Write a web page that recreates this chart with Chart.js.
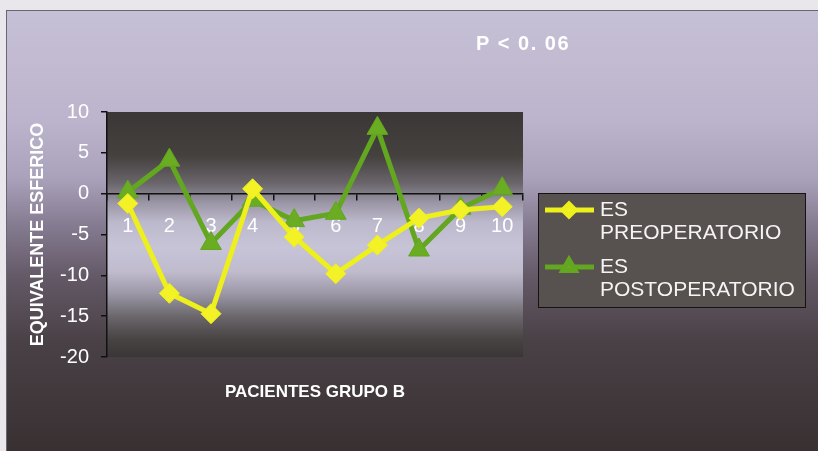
<!DOCTYPE html>
<html>
<head>
<meta charset="utf-8">
<style>
  html, body { margin: 0; padding: 0; background: #e9e7ec; }
  canvas { display: block; }
</style>
<script src="https://cdn.jsdelivr.net/npm/chart.js@4/dist/chart.umd.min.js"></script>
</head>
<body>
<canvas id="chart" width="818" height="451"></canvas>
<script>
// Patients of group B
const pacientes = ['1', '2', '3', '4', '5', '6', '7', '8', '9', '10'];
// Spherical equivalent before surgery (dioptres)
const esPreoperatorio = [-1.2, -12.2, -14.7, 0.6, -5.3, -9.8, -6.3, -3.0, -2.0, -1.6];
// Spherical equivalent after surgery (dioptres)
const esPostoperatorio = [0.2, 4.1, -6.1, -0.8, -3.3, -2.4, 8.0, -6.9, -1.8, 0.6];
// Value axis ticks
const yMin = -20, yMax = 10, yStep = 5;

const titulo = 'P < 0. 06';
const tituloX = 'PACIENTES GRUPO B';
const tituloY = 'EQUIVALENTE ESFERICO';
const leyenda = [['ES', 'PREOPERATORIO'], ['ES', 'POSTOPERATORIO']];

const FONT = '"Liberation Sans", Arial, sans-serif';

// Background panels, titles and the two-line legend
const decor = {
  id: 'decor',
  beforeDraw(chart) {
    const { ctx, width, height, chartArea: a } = chart;
    ctx.save();
    ctx.fillStyle = '#e9e7ec';
    ctx.fillRect(0, 0, width, height);

    const g = ctx.createLinearGradient(0, 10, 0, height);
    g.addColorStop(0.00, '#c6c0d6');
    g.addColorStop(0.25, '#bcb4cc');
    g.addColorStop(0.38, '#aaa2bb');
    g.addColorStop(0.48, '#887e94');
    g.addColorStop(0.60, '#645a68');
    g.addColorStop(0.75, '#4a4147');
    g.addColorStop(1.00, '#393032');
    ctx.fillStyle = g;
    ctx.fillRect(6, 10, width - 6, height - 10);
    ctx.strokeStyle = '#6a6670';
    ctx.lineWidth = 1;
    ctx.strokeRect(6.5, 10.5, width, height);

    const p = ctx.createLinearGradient(0, a.top, 0, a.bottom);
    p.addColorStop(0.00, '#3b3736');
    p.addColorStop(0.18, '#45413f');
    p.addColorStop(0.29, '#69656a');
    p.addColorStop(0.37, '#9a96a6');
    p.addColorStop(0.45, '#bdb9cc');
    p.addColorStop(0.55, '#c8c4d8');
    p.addColorStop(0.65, '#c0bcce');
    p.addColorStop(0.74, '#9c98a8');
    p.addColorStop(0.84, '#686468');
    p.addColorStop(0.93, '#474343');
    p.addColorStop(1.00, '#3a3636');
    ctx.fillStyle = p;
    ctx.fillRect(a.left, a.top, a.width, a.height);
    ctx.restore();
  },
  afterDraw(chart) {
    const { ctx, chartArea: a } = chart;
    ctx.save();
    ctx.fillStyle = '#ffffff';
    ctx.textAlign = 'center';
    ctx.textBaseline = 'middle';
    ctx.font = 'bold 20px ' + FONT;
    if ('letterSpacing' in ctx) ctx.letterSpacing = '1.5px';
    ctx.fillText(titulo, 523, 44);
    if ('letterSpacing' in ctx) ctx.letterSpacing = '0px';
    ctx.font = 'bold 17px ' + FONT;
    ctx.fillText(tituloX, (a.left + a.right) / 2, 392);

    // legend box
    const bx = 538, by = 193, bw = 267, bh = 114;
    ctx.fillStyle = '#57514f';
    ctx.fillRect(bx, by, bw, bh);
    ctx.strokeStyle = '#141212';
    ctx.lineWidth = 1;
    ctx.strokeRect(bx + 0.5, by + 0.5, bw, bh);

    const rows = [210, 267];
    chart.data.datasets.forEach((ds, i) => {
      const y = rows[i];
      ctx.strokeStyle = ds.borderColor;
      ctx.lineWidth = ds.borderWidth;
      ctx.beginPath();
      ctx.moveTo(545, y);
      ctx.lineTo(594, y);
      ctx.stroke();
      ctx.fillStyle = ds.pointBackgroundColor;
      ctx.strokeStyle = ds.pointBorderColor;
      Chart.helpers.drawPoint(ctx, {
        pointStyle: ds.pointStyle,
        radius: ds.pointRadius * 0.6,
        borderWidth: 1,
        rotation: 0
      }, 569, y);
      ctx.fillStyle = '#f4f4f4';
      ctx.font = '21px ' + FONT;
      ctx.textAlign = 'left';
      ctx.textBaseline = 'middle';
      ctx.fillText(leyenda[i][0], 600, y);
      ctx.fillText(leyenda[i][1], 600, y + 23);
    });
    ctx.restore();
  }
};

new Chart(document.getElementById('chart'), {
  type: 'line',
  data: {
    labels: pacientes,
    datasets: [
      {
        label: leyenda[0].join(' '),
        data: esPreoperatorio,
        borderColor: '#eef01c',
        backgroundColor: '#f2f226',
        pointBackgroundColor: '#f2f226',
        pointBorderColor: '#eef01c',
        borderWidth: 5,
        pointStyle: 'rectRot',
        pointRadius: 10,
        pointBorderWidth: 1,
        tension: 0
      },
      {
        label: leyenda[1].join(' '),
        data: esPostoperatorio,
        borderColor: '#63a61f',
        backgroundColor: '#6aac22',
        pointBackgroundColor: '#6aac22',
        pointBorderColor: '#63a61f',
        borderWidth: 5,
        pointStyle: 'triangle',
        pointRadius: 12,
        pointBorderWidth: 1,
        tension: 0
      }
    ]
  },
  options: {
    responsive: false,
    animation: false,
    events: [],
    layout: { padding: { left: 0, top: 112, right: 295, bottom: 94 } },
    plugins: {
      legend: { display: false },
      tooltip: { enabled: false }
    },
    scales: {
      x: {
        type: 'category',
        position: { y: 0 },
        offset: true,
        grid: { display: true, drawOnChartArea: false, offset: true, tickLength: 6, color: '#111111', lineWidth: 1.5 },
        border: { color: '#111111', width: 1.5 },
        ticks: { color: '#ffffff', font: { size: 20, family: FONT }, padding: 15, maxRotation: 0, autoSkip: false }
      },
      y: {
        min: yMin,
        max: yMax,
        ticks: { stepSize: yStep, color: '#ffffff', font: { size: 20, family: FONT }, padding: 12 },
        grid: { drawOnChartArea: false, tickLength: 6, color: '#111111', lineWidth: 1.5 },
        border: { color: '#111111', width: 1.5 },
        title: {
          display: true,
          text: tituloY,
          color: '#ffffff',
          font: { size: 18, weight: 'bold', family: FONT },
          padding: { top: 27, bottom: 0 }
        },
        afterFit(scale) { scale.width = 107; }
      }
    }
  },
  plugins: [decor]
});
</script>
</body>
</html>
